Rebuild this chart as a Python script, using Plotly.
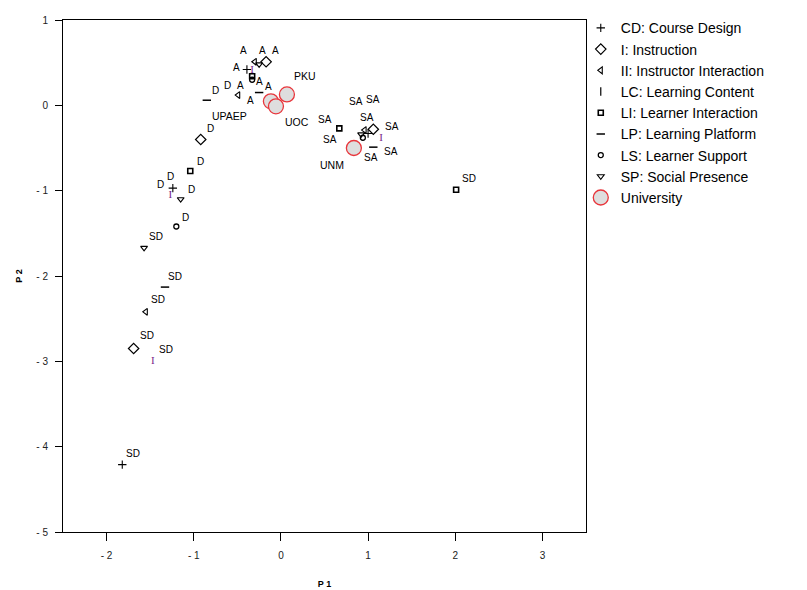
import plotly.graph_objects as go

# ---------------- data ----------------
levels = ["SD", "D", "A", "SA"]

cd_p1 = [-1.82, -1.24, -0.39, 1.00]
cd_p2 = [-4.21, -0.97, 0.42, -0.33]

i_p1 = [-1.69, -0.92, -0.17, 1.06]
i_p2 = [-2.85, -0.40, 0.51, -0.28]

ii_p1 = [-1.55, -0.49, -0.30, 0.96]
ii_p2 = [-2.42, 0.12, 0.51, -0.29]

lc_p1 = [-1.47, -1.27, -0.33, 1.15]
lc_p2 = [-3.00, -1.05, 0.41, -0.38]

li_p1 = [2.01, -1.04, -0.33, 0.67]
li_p2 = [-0.99, -0.77, 0.34, -0.27]

lp_p1 = [-1.33, -0.85, -0.25, 1.06]
lp_p2 = [-2.13, 0.06, 0.15, -0.49]

ls_levels = ["D", "A", "SA"]
ls_p1 = [-1.20, -0.33, 0.94]
ls_p2 = [-1.42, 0.30, -0.38]

sp_p1 = [-1.57, -1.15, -0.25, 0.92]
sp_p2 = [-1.67, -1.10, 0.48, -0.34]

uni_names = ["UPAEP", "UOC", "PKU", "UNM"]
uni_p1 = [-0.115, -0.057, 0.069, 0.837]
uni_p2 = [0.047, -0.012, 0.128, -0.50]

x_ticks = [-2, -1, 0, 1, 2, 3]
x_tick_text = ["- 2", "- 1", "0", "1", "2", "3"]
y_ticks = [1, 0, -1, -2, -3, -4, -5]
y_tick_text = ["1", "0", "- 1", "- 2", "- 3", "- 4", "- 5"]

# ---------------- styles ----------------
dims = [
    ("CD: Course Design", levels, cd_p1, cd_p2, "cross-thin-open", 6, 1.1),
    ("I: Instruction", levels, i_p1, i_p2, "diamond-open", 8, 1.2),
    ("II: Instructor Interaction", levels, ii_p1, ii_p2, "triangle-left-open", 6, 1.1),
    ("LC: Learning Content", levels, lc_p1, lc_p2, "line-ns-open", 6, 1.2),
    ("LI: Learner Interaction", levels, li_p1, li_p2, "square-open", 5, 1.6),
    ("LP: Learning Platform", levels, lp_p1, lp_p2, "line-ew-open", 6, 1.5),
    ("LS: Learner Support", ls_levels, ls_p1, ls_p2, "circle-open", 5, 1.3),
    ("SP: Social Presence", levels, sp_p1, sp_p2, "triangle-down-open", 6, 1.1),
]

# label pixel offsets (dx right, dy down) per dimension, per point
label_offsets = [
    [(11, -11), (-2, -12), (-10, -2), (-12, -32)],   # CD
    [(13, -13), (10, -11), (9, -11), (19, -3)],      # I
    [(12, -12), (-11, -10), (-11, -11), (2, -13)],   # II
    [(13, -12), (-10, -10), (7, 11), (10, 14)],      # LC
    [(13, -11), (10, -10), (-12, 9), (-14, -9)],     # LI
    [(10, -11), (9, -10), (-9, 8), (-2, 10)],        # LP
    [(9, -9), (16, 7), (-33, 2)],                    # LS
    [(12, -11), (11, -10), (3, -14), (12, -35)],     # SP
]
uni_offsets = [(-41, 15), (21, 16), (18, -18), (-22, 17)]

FONT = "Liberation Sans, Arial, sans-serif"
fig = go.Figure()
annotations = []

for k, (name, lv, xs, ys, sym, size, lw) in enumerate(dims):
    if name.startswith("LC"):
        fig.add_trace(go.Scatter(
            x=xs, y=ys, mode="text", text=["I"] * len(xs),
            textfont=dict(family="Liberation Serif, serif", size=11, color="#7a1f8a"),
            showlegend=False, hoverinfo="skip"))
        fig.add_trace(go.Scatter(
            x=[None], y=[None], mode="markers", name=name,
            marker=dict(symbol=sym, size=size, color="black", line=dict(color="black", width=lw))))
    else:
        fig.add_trace(go.Scatter(
            x=xs, y=ys, mode="markers", name=name,
            marker=dict(symbol=sym, size=size, color="black",
                        line=dict(color="black", width=lw))))
    for j, (lab, xv, yv) in enumerate(zip(lv, xs, ys)):
        dx, dy = label_offsets[k][j]
        annotations.append(dict(x=xv, y=yv, text=lab, showarrow=False,
                                xshift=dx, yshift=-dy,
                                font=dict(family=FONT, size=10, color="black")))

fig.add_trace(go.Scatter(
    x=uni_p1, y=uni_p2, mode="markers", name="University",
    marker=dict(symbol="circle", size=15, color="#dedede",
                line=dict(color="#e8363c", width=1.3))))
for name, xv, yv, (dx, dy) in zip(uni_names, uni_p1, uni_p2, uni_offsets):
    annotations.append(dict(x=xv, y=yv, text=name, showarrow=False,
                            xshift=dx, yshift=-dy,
                            font=dict(family=FONT, size=10.5, color="black")))

fig.update_layout(
    width=807, height=590,
    margin=dict(l=63, r=221, t=16, b=58),
    paper_bgcolor="white", plot_bgcolor="white",
    font=dict(family=FONT, color="black"),
    showlegend=True,
    legend=dict(x=0.99, y=1.015, xanchor="left", yanchor="top",
                font=dict(family=FONT, size=14, color="black"),
                bgcolor="rgba(0,0,0,0)", borderwidth=0,
                itemsizing="trace", tracegroupgap=0),
    annotations=annotations,
)
fig.update_xaxes(
    range=[-2.5, 3.5], tickvals=x_ticks, ticktext=x_tick_text,
    showgrid=False, zeroline=False, showline=True, mirror=True,
    linecolor="black", linewidth=1, ticks="outside", ticklen=8,
    tickcolor="black", ticklabelstandoff=6, automargin=False,
    tickfont=dict(family=FONT, size=10, color="#222"),
    title=dict(text="<b>P 1</b>", font=dict(family=FONT, size=9), standoff=20),
)
fig.update_yaxes(
    range=[-5, 1], tickvals=y_ticks, ticktext=y_tick_text,
    showgrid=False, zeroline=False, showline=True, mirror=True,
    linecolor="black", linewidth=1, ticks="outside", ticklen=7,
    tickcolor="black", ticklabelstandoff=5, automargin=False,
    tickfont=dict(family=FONT, size=10, color="#222"),
    title=dict(text="<b>P 2</b>", font=dict(family=FONT, size=9), standoff=12),
)

fig.write_html("out.html")
